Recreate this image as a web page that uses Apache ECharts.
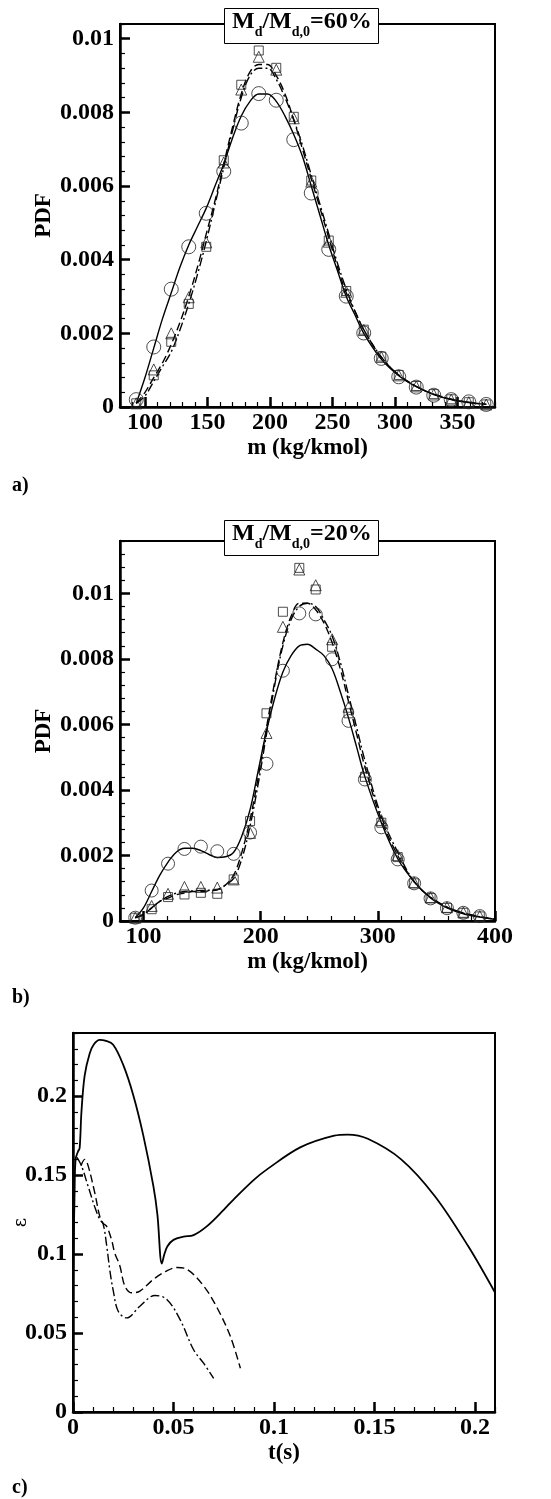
<!DOCTYPE html>
<html>
<head>
<meta charset="utf-8">
<script src="https://cdn.jsdelivr.net/npm/echarts@6/dist/echarts.min.js"></script>
<style>
html,body{margin:0;padding:0;background:#fff;}
#c{width:551px;height:1499px;}
</style>
</head>
<body>
<div id="c"></div>
<script>
// ---------- Panel a: Md/Md,0 = 60% ----------
const mA = [93,107,121,135,149,163,177,191,205,219,233,247,261,275,289,303,317,331,345,359,373];
const circA = [0.0002,0.00163,0.0032,0.00435,0.00526,0.0064,0.00771,0.00851,0.00833,0.00726,0.00581,0.00428,0.00301,0.00201,0.00132,0.00082,0.00054,0.00032,0.0002,0.00014,0.00007];
const triA  = [0.0001,0.00102,0.002,0.00298,0.00447,0.00664,0.00862,0.00951,0.00916,0.00784,0.00612,0.00449,0.00313,0.00209,0.00136,0.00086,0.00056,0.00034,0.0002,0.00013,0.00007];
const sqA   = [0.0001,0.00086,0.00177,0.0028,0.00435,0.0067,0.00875,0.00968,0.00921,0.00788,0.00615,0.00452,0.00315,0.0021,0.00137,0.00087,0.00057,0.00035,0.00021,0.00013,0.00007];
const fitMA = [93,100,107,114,121,128,135,142,149,156,163,170,177,184,191,198,205,212,219,226,233,240,247,254,261,268,275,289,303,317,331,345,359,373];
const solidA   = [0.0001,0.0008,0.0016,0.0024,0.0031,0.0038,0.0044,0.0049,0.0054,0.0060,0.0066,0.0073,0.0079,0.0083,0.0085,0.0085,0.0083,0.0079,0.0074,0.0068,0.0060,0.0052,0.0044,0.0037,0.0030,0.0025,0.0020,0.0013,0.00085,0.00055,0.00034,0.0002,0.00012,0.00007];
const dashA    = [0.0001,0.0004,0.0008,0.0012,0.0017,0.0023,0.0030,0.0038,0.0047,0.0056,0.0066,0.0076,0.0085,0.0091,0.0093,0.0093,0.0090,0.0085,0.0078,0.0070,0.0062,0.0054,0.0046,0.0038,0.0031,0.0026,0.0021,0.00135,0.00087,0.00056,0.00035,0.00021,0.00013,0.00007];
const dashDotA = [0.0001,0.0003,0.0007,0.0011,0.0015,0.0021,0.0028,0.0036,0.0045,0.0055,0.0065,0.0075,0.0084,0.0090,0.0092,0.0092,0.0089,0.0084,0.0078,0.0071,0.0063,0.0055,0.0047,0.0039,0.0032,0.0026,0.0021,0.00136,0.00087,0.00056,0.00035,0.00021,0.00013,0.00007];
const xTicksA = [100,150,200,250,300,350];
const yTicksAB = [0,0.002,0.004,0.006,0.008,0.01];

// ---------- Panel b: Md/Md,0 = 20% ----------
const mB = [93,107,121,135,149,163,177,191,205,219,233,247,261,275,289,303,317,331,345,359,373,387];
const circB = [0.0001,0.00093,0.00175,0.0022,0.00227,0.00213,0.00205,0.0027,0.0048,0.00764,0.00939,0.00936,0.00799,0.00611,0.00432,0.00286,0.00188,0.00115,0.00069,0.00039,0.00025,0.00015];
const triB  = [0.0001,0.00046,0.00083,0.00104,0.00104,0.00102,0.00127,0.00269,0.00574,0.00898,0.01073,0.01025,0.0086,0.00654,0.00456,0.00308,0.00201,0.00118,0.00072,0.00042,0.00026,0.00015];
const sqB   = [0.0001,0.00036,0.00073,0.00081,0.00086,0.00083,0.00127,0.00305,0.00634,0.00944,0.01078,0.01012,0.00837,0.00634,0.0044,0.003,0.00195,0.00115,0.0007,0.0004,0.00025,0.00014];
const fitMB = [93,100,107,114,121,128,135,142,149,156,163,170,177,184,191,198,205,212,219,226,233,240,247,254,261,268,275,282,289,303,317,331,345,359,373,387,400];
const solidB   = [0.0001,0.0004,0.0009,0.0014,0.0018,0.0021,0.00222,0.00222,0.00215,0.00203,0.00194,0.00196,0.0021,0.0026,0.0034,0.0046,0.0058,0.0068,0.0076,0.0081,0.0084,0.00845,0.0083,0.0081,0.0077,0.0070,0.0062,0.0053,0.0044,0.0030,0.0019,0.0012,0.0007,0.0004,0.00022,0.00012,0.00005];
const dashB    = [0.0001,0.0002,0.0004,0.0006,0.0007,0.0008,0.00085,0.0009,0.0009,0.00092,0.00095,0.0011,0.0014,0.0021,0.0031,0.0044,0.0059,0.0073,0.0085,0.0093,0.0097,0.0097,0.0095,0.0091,0.0085,0.0077,0.0067,0.0057,0.0047,0.0031,0.0020,0.0012,0.00072,0.00042,0.00024,0.00013,0.00006];
const dashDotB = [0.0001,0.0002,0.0004,0.0006,0.00075,0.00085,0.0009,0.00092,0.00093,0.00094,0.00096,0.0011,0.0013,0.0019,0.0029,0.0042,0.0057,0.0072,0.0084,0.0092,0.0096,0.0097,0.0096,0.0092,0.0087,0.0079,0.0069,0.0059,0.0049,0.0032,0.0021,0.0012,0.00073,0.00043,0.00025,0.00013,0.00006];
const xTicksB = [100,200,300,400];

// ---------- Panel c: epsilon vs t ----------
const tSolid = [0,0.0008,0.0013,0.0025,0.0033,0.0042,0.0058,0.0083,0.0105,0.0133,0.016,0.02,0.025,0.03,0.035,0.04,0.042,0.0442,0.0455,0.047,0.05,0.055,0.06,0.0667,0.075,0.08,0.09,0.0967,0.1133,0.13,0.1367,0.1467,0.1633,0.18,0.1967,0.21];
const epsSolid = [0.08,0.14,0.160,0.165,0.167,0.19,0.213,0.227,0.233,0.2357,0.2352,0.2326,0.2198,0.2006,0.175,0.143,0.125,0.094,0.1,0.105,0.109,0.111,0.112,0.1177,0.128,0.1347,0.147,0.1538,0.1677,0.175,0.1757,0.173,0.160,0.1368,0.1049,0.0756];
const tDash = [0.004,0.0058,0.0075,0.0108,0.0133,0.015,0.0167,0.0192,0.0208,0.0233,0.0258,0.0292,0.0333,0.04,0.0467,0.0517,0.0567,0.065,0.0717,0.0783,0.0833];
const epsDash = [0.156,0.160,0.156,0.139,0.124,0.1195,0.1177,0.109,0.1006,0.0926,0.0798,0.0755,0.0766,0.084,0.0894,0.0915,0.0904,0.0798,0.066,0.0479,0.0277];
const tDashDot = [0.002,0.0042,0.0075,0.0108,0.0133,0.015,0.0167,0.0183,0.02,0.0225,0.0267,0.0333,0.0408,0.0467,0.0533,0.06,0.065,0.07];
const epsDashDot = [0.1613,0.156,0.143,0.130,0.122,0.119,0.106,0.09,0.077,0.0638,0.0596,0.067,0.0738,0.0713,0.0585,0.0394,0.0309,0.0213];
const xTicksC = [0,0.05,0.1,0.15,0.2];
const yTicksC = [0,0.05,0.1,0.15,0.2];

const FONT = 'Liberation Serif';
const pair = (xs, ys) => xs.map((x, i) => [x, ys[i]]);
const fmt = v => String(+(+v).toFixed(5));

function majorX(grid, min, max, ticks, name, gap) {
  return {
    type: 'value', gridIndex: grid, min, max, position: 'bottom',
    axisLine: {show: true, onZero: false, lineStyle: {color: '#000', width: 2.5}},
    axisTick: {show: true, inside: true, length: 10, customValues: ticks, lineStyle: {color: '#000', width: 2.5}},
    axisLabel: {show: true, customValues: ticks, formatter: fmt, margin: 4,
      fontFamily: FONT, fontWeight: 'bold', fontSize: 24, color: '#000'},
    splitLine: {show: false},
    name, nameLocation: 'middle', nameGap: gap,
    nameTextStyle: {fontFamily: FONT, fontWeight: 'bold', fontSize: 23, color: '#000'}
  };
}
function minorX(grid, min, max, step) {
  return {
    type: 'value', gridIndex: grid, min, max, interval: step, position: 'bottom',
    axisLine: {show: false}, axisLabel: {show: false}, splitLine: {show: false},
    axisTick: {show: true, inside: true, length: 5, lineStyle: {color: '#000', width: 1.2}}
  };
}
function majorY(grid, min, max, ticks, name, gap, nameStyle) {
  return {
    type: 'value', gridIndex: grid, min, max, position: 'left',
    axisLine: {show: true, onZero: false, lineStyle: {color: '#000', width: 2.5}},
    axisTick: {show: true, inside: true, length: 10, customValues: ticks, lineStyle: {color: '#000', width: 2.5}},
    axisLabel: {show: true, customValues: ticks, formatter: fmt, margin: 6,
      fontFamily: FONT, fontWeight: 'bold', fontSize: 24, color: '#000'},
    splitLine: {show: false},
    name, nameLocation: 'middle', nameGap: gap, nameRotate: 90, nameMoveOverlap: false,
    nameTextStyle: nameStyle
  };
}
function minorY(grid, min, max, step) {
  return {
    type: 'value', gridIndex: grid, min, max, interval: step, position: 'left',
    axisLine: {show: false}, axisLabel: {show: false}, splitLine: {show: false},
    axisTick: {show: true, inside: true, length: 5, lineStyle: {color: '#000', width: 1.2}}
  };
}
function line(xi, yi, data, type) {
  return {
    type: 'line', xAxisIndex: xi, yAxisIndex: yi, data, smooth: 0.35, showSymbol: false,
    symbol: 'none', silent: true, z: 3,
    lineStyle: {color: '#000', width: 1.4, type}
  };
}
function scat(xi, yi, data, symbol, size) {
  return {
    type: 'scatter', xAxisIndex: xi, yAxisIndex: yi, data, symbol, symbolSize: size, silent: true, z: 4,
    itemStyle: {color: 'rgba(0,0,0,0)', borderColor: '#222', borderWidth: 1}
  };
}
const DASH = [8, 4];
const DASHDOT = [9, 3, 2, 3];
const pdfName = {fontFamily: FONT, fontWeight: 'bold', fontSize: 23, color: '#000'};
const richTitle = {
  m: {fontFamily: FONT, fontWeight: 'bold', fontSize: 24, color: '#000', lineHeight: 27, verticalAlign: 'bottom'},
  s: {fontFamily: FONT, fontWeight: 'bold', fontSize: 14, color: '#000', lineHeight: 14, verticalAlign: 'bottom', padding: [0, 0, -5, 0]}
};
function boxTitle(text, top) {
  return {text, left: 224, top, padding: [2, 7, 5, 8], borderColor: '#000', borderWidth: 1,
    backgroundColor: '#fff', textStyle: {rich: richTitle}, z: 10};
}
function panelTag(text, top) {
  return {text, left: 12, top, padding: 0,
    textStyle: {fontFamily: FONT, fontWeight: 'bold', fontSize: 20, color: '#000'}};
}
const gridBase = {show: true, borderColor: '#000', borderWidth: 2, containLabel: false, outerBoundsMode: 'none'};

const option = {
  animation: false,
  backgroundColor: '#fff',
  title: [
    boxTitle('{m|M}{s|d}{m|/M}{s|d,0}{m|=60%}', 5),
    boxTitle('{m|M}{s|d}{m|/M}{s|d,0}{m|=20%}', 517),
    panelTag('a)', 476),
    panelTag('b)', 988),
    panelTag('c)', 1478)
  ],
  grid: [
    Object.assign({left: 120, top: 24, width: 375, height: 383}, gridBase),
    Object.assign({left: 120, top: 541, width: 375, height: 380}, gridBase),
    Object.assign({left: 73, top: 1033, width: 422, height: 379}, gridBase)
  ],
  xAxis: [
    majorX(0, 80, 380, xTicksA, 'm (kg/kmol)', 30),
    minorX(0, 80, 380, 10),
    majorX(1, 80, 400, xTicksB, 'm (kg/kmol)', 30),
    minorX(1, 80, 400, 20),
    majorX(2, 0, 0.21, xTicksC, 't(s)', 30),
    minorX(2, 0, 0.21, 0.01)
  ],
  yAxis: [
    majorY(0, 0, 0.0104, yTicksAB, 'PDF', 64, pdfName),
    minorY(0, 0, 0.0104, 0.0004),
    majorY(1, 0, 0.0116, yTicksAB, 'PDF', 64, pdfName),
    minorY(1, 0, 0.0116, 0.0004),
    majorY(2, 0, 0.24, yTicksC, 'ε', 43, {fontFamily: 'DejaVu Serif', fontSize: 18, color: '#000'}),
    minorY(2, 0, 0.24, 0.01)
  ],
  series: [
    line(0, 0, pair(fitMA, solidA), 'solid'),
    line(0, 0, pair(fitMA, dashA), DASH),
    line(0, 0, pair(fitMA, dashDotA), DASHDOT),
    scat(0, 0, pair(mA, circA), 'circle', 14),
    scat(0, 0, pair(mA, triA), 'triangle', 11),
    scat(0, 0, pair(mA, sqA), 'rect', 9),

    line(2, 2, pair(fitMB, solidB), 'solid'),
    line(2, 2, pair(fitMB, dashB), DASH),
    line(2, 2, pair(fitMB, dashDotB), DASHDOT),
    scat(2, 2, pair(mB, circB), 'circle', 13),
    scat(2, 2, pair(mB, triB), 'triangle', 11),
    scat(2, 2, pair(mB, sqB), 'rect', 9),

    line(4, 4, pair(tSolid, epsSolid), 'solid'),
    line(4, 4, pair(tDash, epsDash), DASH),
    line(4, 4, pair(tDashDot, epsDashDot), DASHDOT)
  ]
};
option.series[12].lineStyle.width = 1.8;
const chart = echarts.init(document.getElementById('c'), null, {renderer: 'canvas'});
chart.setOption(option);
</script>
</body>
</html>
